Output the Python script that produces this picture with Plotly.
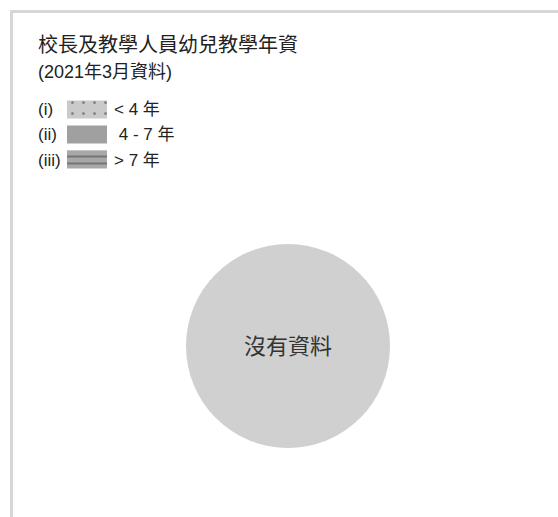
import plotly.graph_objects as go

W, H = 558, 517

title = "校長及教學人員幼兒教學年資"
subtitle = "(2021年3月資料)"
no_data_label = "沒有資料"
group_ids = ["(i)", "(ii)", "(iii)"]
group_names = ["< 4 年", "4 - 7 年", "> 7 年"]
group_labels = ["< 4 年", "\u00a04 - 7 年", "> 7 年"]
swatch_colors = ["#cacaca", "#a0a0a0", "#a8a8a8"]
swatch_patterns = [".", "", "-"]

FONT = "Arial, Liberation Sans, Noto Sans CJK TC, sans-serif"


def px_x(x):
    return x / W


def px_y(y):
    return 1 - y / H


fig = go.Figure()

# 沒有資料 -> 單一灰色圓
fig.add_trace(go.Pie(
    labels=[no_data_label],
    values=[1],
    marker=dict(colors=["#d0d0d0"], line=dict(width=0)),
    textinfo="label",
    textposition="inside",
    insidetextorientation="horizontal",
    textfont=dict(size=22, color="#333333", family=FONT),
    domain=dict(x=[px_x(186), px_x(390)], y=[px_y(448), px_y(244)]),
    sort=False,
    showlegend=False,
    hoverinfo="skip",
))

# 圖例色塊
fig.add_trace(go.Bar(
    x=[1, 1, 1],
    y=group_names,
    orientation="h",
    marker=dict(
        color=swatch_colors,
        line=dict(width=0),
        pattern=dict(
            shape=swatch_patterns,
            fgcolor=["#444444", "#555555", "#333333"],
            bgcolor=swatch_colors,
            size=[11, 9, 7],
            solidity=[0.06, 0.1, 0.3],
        ),
    ),
    xaxis="x2",
    yaxis="y2",
    showlegend=False,
    hoverinfo="skip",
))

annotations = [
    dict(text=title, x=px_x(36), y=px_y(45), xanchor="left", yanchor="middle",
         font=dict(size=20, color="#222222")),
    dict(text=subtitle, x=px_x(36), y=px_y(72), xanchor="left", yanchor="middle",
         font=dict(size=18, color="#222222")),
]
row_y = [110, 135, 160]
for gid, name, ry in zip(group_ids, group_labels, row_y):
    annotations.append(dict(text=gid, x=px_x(36), y=px_y(ry), xanchor="left",
                            yanchor="middle", font=dict(size=17, color="#222222")))
    annotations.append(dict(text=name, x=px_x(112), y=px_y(ry), xanchor="left",
                            yanchor="middle", font=dict(size=17, color="#222222")))
for a in annotations:
    a.update(xref="paper", yref="paper", showarrow=False)

fig.update_layout(
    width=W,
    height=H,
    margin=dict(l=0, r=0, t=0, b=0),
    paper_bgcolor="white",
    plot_bgcolor="white",
    font=dict(family=FONT),
    xaxis2=dict(domain=[px_x(67), px_x(107)], range=[0, 1], visible=False, fixedrange=True),
    yaxis2=dict(domain=[px_y(172), px_y(97)], anchor="x2", visible=False,
                autorange="reversed", fixedrange=True),
    bargap=0.28,
    annotations=annotations,
    shapes=[dict(type="rect", xref="paper", yref="paper",
                 x0=px_x(11.5), x1=1.1, y0=-0.1, y1=px_y(11.5),
                 line=dict(color="#d6d6d6", width=3), layer="below")],
)

fig.write_html("out.html", config={"displayModeBar": False},
               post_script="document.body.style.margin='0';")
